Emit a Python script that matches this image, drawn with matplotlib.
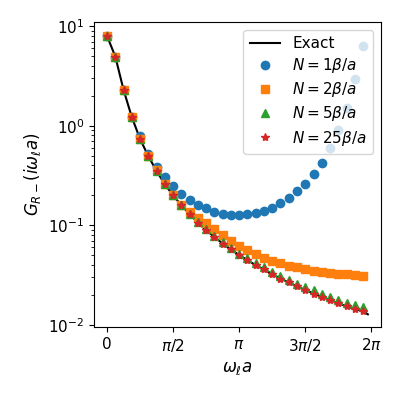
import numpy as np
import matplotlib
matplotlib.use("Agg")
import matplotlib.pyplot as plt

# Matsubara frequency index l = 0..31, omega_l * a = 2*pi*l/32
n_freq = 32
omega = 2 * np.pi * np.arange(n_freq) / n_freq

# exact curve (last point is the end of the line)
exact_x = list(omega) + [6.2]
exact_y = [7.97, 4.95, 2.29, 1.22, 0.736, 0.495, 0.351, 0.258, 0.200, 0.159,
           0.130, 0.1066, 0.0893, 0.0766, 0.0657, 0.0573, 0.0502, 0.0448,
           0.0398, 0.0361, 0.0324, 0.0292, 0.0267, 0.0244, 0.0225, 0.0207,
           0.0192, 0.0178, 0.0165, 0.0154, 0.0145, 0.0137, 0.0128]

n1 = [7.97, 4.95, 2.29, 1.22, 0.78, 0.524, 0.385, 0.305, 0.246, 0.208,
      0.178, 0.161, 0.150, 0.137, 0.131, 0.128, 0.127, 0.129, 0.134, 0.140,
      0.151, 0.166, 0.188, 0.220, 0.262, 0.325, 0.426, 0.597, 0.897, 1.51,
      2.96, 6.28]

n2 = [7.97, 4.95, 2.29, 1.22, 0.74, 0.500, 0.357, 0.261, 0.203, 0.159,
      0.135, 0.119, 0.105, 0.0925, 0.0805, 0.0701, 0.0625, 0.0563, 0.0513,
      0.0475, 0.0440, 0.0417, 0.0395, 0.0378, 0.0363, 0.0352, 0.0343,
      0.0335, 0.0327, 0.0322, 0.0316, 0.0313]

n5 = [7.97, 4.95, 2.29, 1.22, 0.736, 0.495, 0.351, 0.258, 0.200, 0.159,
      0.130, 0.1092, 0.0914, 0.0788, 0.0680, 0.0593, 0.0521, 0.0466, 0.0417,
      0.0378, 0.0340, 0.0308, 0.0282, 0.0258, 0.0240, 0.0222, 0.0206,
      0.0193, 0.0180, 0.0168, 0.0159, 0.0152]

n25 = [7.97, 4.95, 2.29, 1.22, 0.736, 0.495, 0.351, 0.258, 0.200, 0.159,
       0.130, 0.1066, 0.0893, 0.0766, 0.0657, 0.0573, 0.0502, 0.0448,
       0.0398, 0.0361, 0.0324, 0.0292, 0.0267, 0.0244, 0.0225, 0.0207,
       0.0192, 0.0178, 0.0165, 0.0154, 0.0145, 0.0137]

tick_pos = [0, np.pi / 2, np.pi, 3 * np.pi / 2, 2 * np.pi]
tick_labels = ['0', r'$\pi/2$', r'$\pi$', r'$3\pi/2$', r'$2\pi$']

fig = plt.figure(figsize=(3.99, 3.99), dpi=100)
ax = fig.add_axes([0.2356, 0.1805, 0.719, 0.764])

ax.plot(exact_x, exact_y, '-', color='black', label='Exact', zorder=1)
ax.plot(omega, n1, 'o', color='C0', label=r'$N = 1\beta/a$')
ax.plot(omega, n2, 's', color='C1', label=r'$N = 2\beta/a$')
ax.plot(omega, n5, '^', color='C2', label=r'$N = 5\beta/a$')
ax.plot(omega, n25, '*', color='C3', label=r'$N = 25\beta/a$')

ax.set_yscale('log')
ax.set_ylim(10 ** -2.02, 10 ** 1.04)
ax.set_xticks(tick_pos)
ax.set_xticklabels(tick_labels)
ax.tick_params(labelsize=11)
ax.set_xlabel(r'$\omega_\ell a$', fontsize=12)
ax.set_ylabel(r'$G_{R-}(i\omega_\ell a)$', fontsize=12)
ax.legend(loc='upper right', fontsize=11, labelspacing=0.34)

plt.savefig('out.png', dpi=100)
